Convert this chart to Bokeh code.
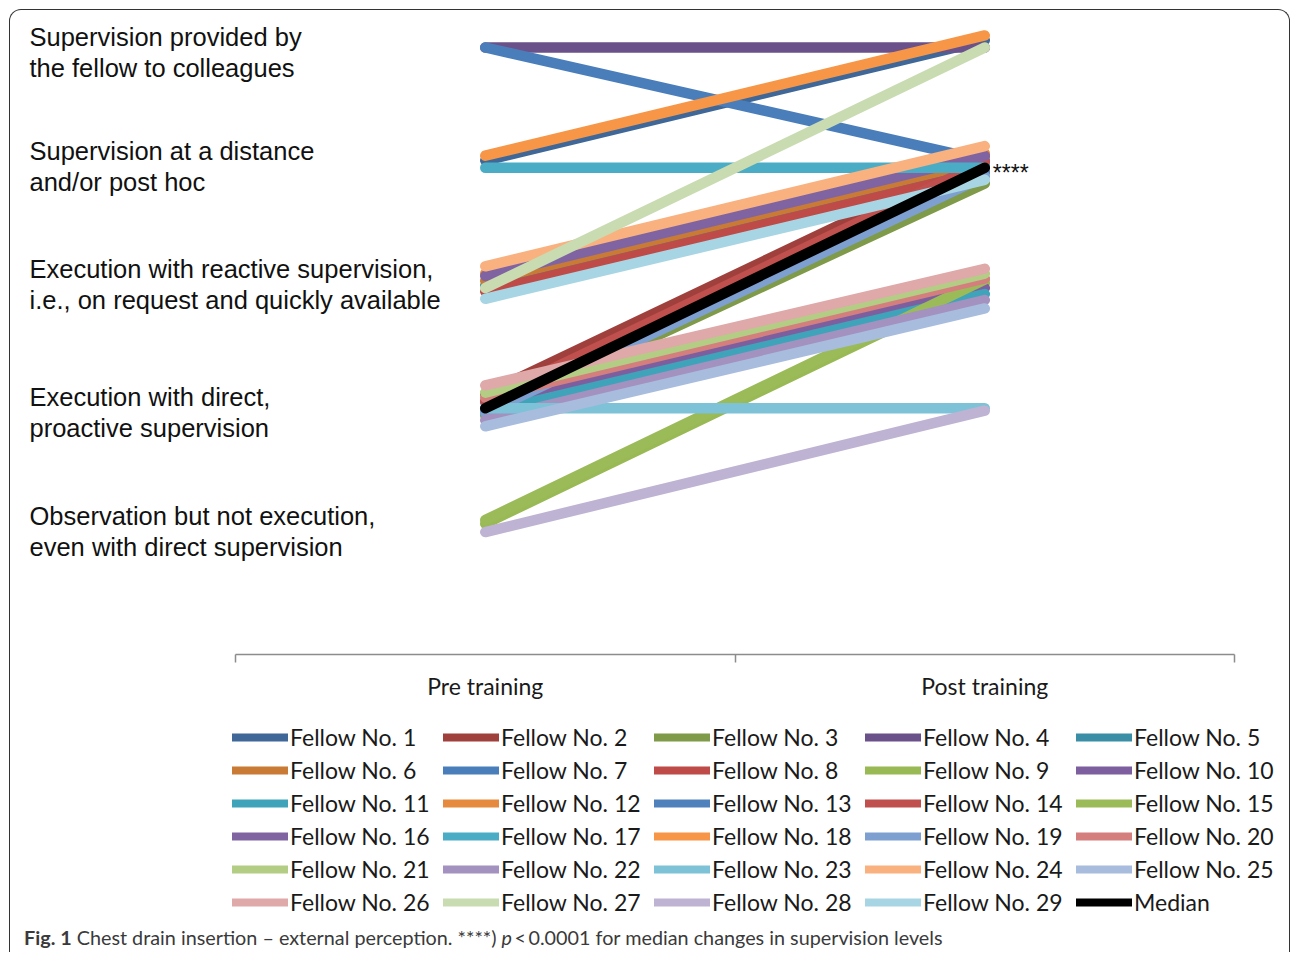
from bokeh.plotting import figure
from bokeh.models import Range1d, FixedTicker, Legend, LegendItem, Div, ColumnDataSource
from bokeh.layouts import column
from bokeh.embed import file_html
from bokeh.resources import INLINE
from bokeh.core.properties import value

# ---------------- data ----------------
phases = ["Pre training", "Post training"]

fellows = ["Fellow No. %d" % i for i in range(1, 30)]

# supervision level (1-5), slightly jittered as in the original figure
pre_level = [4.06, 2.12, 1.94, 5.00, 3.02, 3.06, 5.00, 2.97, 1.04, 2.05,
             1.96, 3.12, 1.98, 2.06, 1.07, 3.10, 4.00, 4.10, 1.96, 2.09,
             2.13, 1.90, 2.00, 3.18, 1.85, 2.19, 3.00, 0.97, 2.91]
post_level = [5.06, 4.10, 3.87, 5.00, 4.02, 4.06, 4.06, 3.97, 3.04, 3.00,
              2.95, 4.12, 3.96, 4.05, 3.07, 4.10, 4.00, 5.10, 3.93, 3.08,
              3.12, 2.90, 2.00, 4.18, 2.83, 3.16, 5.00, 1.98, 3.90]

median_label = "Median"
median_pre = 2.0
median_post = 4.0
signif_text = "****"

colors = ["#3F6797", "#A0403D", "#7F9A48", "#6A5189", "#3A8EA5",
          "#C97B35", "#4A7EBB", "#BE4B48", "#98B954", "#7D5FA0",
          "#3FA3BA", "#E68B3D", "#4F81BD", "#C0504D", "#9BBB59",
          "#8064A2", "#4BACC6", "#F79646", "#7EA0D1", "#D47F7D",
          "#B3CE84", "#A391C0", "#7DC2D7", "#F9B17F", "#A8BCDE",
          "#DEA9A8", "#C9DBB0", "#BEB3D2", "#A8D5E3"]
median_color = "#000000"

levels = [5, 4, 3, 2, 1]
level_labels = [
    "Supervision provided by\nthe fellow to colleagues",
    "Supervision at a distance\nand/or post hoc",
    "Execution with reactive supervision,\ni.e., on request and quickly available",
    "Execution with direct,\nproactive supervision",
    "Observation but not execution,\neven with direct supervision",
]

caption_html = ("<b>Fig. 1</b> Chest drain insertion \u2013 external perception. "
                "****) <i>p</i>\u2009&lt;\u20090.0001 for median changes in supervision levels")

# ---------------- styling ----------------
FRAME_W = 1278
PX_PER_UNIT = 499.5
X0 = -0.4505
LW = 10.5
label_nudge = [5, -1.5, -3.5, 4.5, 3]   # screen px, vertical fine-tuning of level labels

# ---------------- main chart ----------------
phase_x = [i + 0.5 for i in range(len(phases))]
bounds_x = [float(i) for i in range(len(phases) + 1)]

p = figure(frame_width=FRAME_W, frame_height=644,
           x_range=Range1d(X0, X0 + FRAME_W / PX_PER_UNIT), y_range=Range1d(-0.0478, 5.3077),
           output_backend="svg", toolbar_location=None, y_axis_location=None,
           min_border=0, min_border_bottom=60)
p.grid.visible = False
p.outline_line_color = None
p.background_fill_color = None
p.border_fill_color = None

ax = p.xaxis[0]
ax.ticker = FixedTicker(ticks=phase_x, minor_ticks=bounds_x)
ax.major_label_overrides = {phase_x[i]: phases[i] for i in range(len(phases))}
ax.bounds = (bounds_x[0], bounds_x[-1])
ax.axis_line_color = "#8c8c8c"
ax.axis_line_width = 1.5
ax.major_tick_out = 0
ax.major_tick_in = 0
ax.minor_tick_out = 8
ax.minor_tick_in = 0
ax.minor_tick_line_color = "#8c8c8c"
ax.minor_tick_line_width = 1.5
ax.major_label_text_font = "Lato"
ax.major_label_text_font_size = "23px"
ax.major_label_text_color = "#1a1a1a"
ax.major_label_standoff = 9

for i, name in enumerate(fellows):
    p.line(x=phase_x, y=[pre_level[i], post_level[i]], line_color=colors[i],
           line_width=LW, line_cap="round")
p.line(x=phase_x, y=[median_pre, median_post], line_color=median_color,
       line_width=LW, line_cap="round")

p.text(x=[phase_x[1]], y=[median_post], text=[signif_text], x_offset=8, y_offset=5,
       text_font=value("Liberation Sans"), text_font_size="23px",
       text_baseline="middle", text_align="left", text_color="#111111")

lab_src = ColumnDataSource(dict(x=[X0] * len(levels), y=levels, text=level_labels,
                                dy=label_nudge))
p.text(x="x", y="y", text="text", y_offset="dy", source=lab_src,
       x_offset=19, text_font=value("Liberation Sans"), text_font_size="25.5px",
       text_baseline="middle", text_align="left", text_color="#111111",
       text_line_height=1.12)

# ---------------- legend panel ----------------
p2 = figure(frame_width=FRAME_W, frame_height=204, x_range=Range1d(0, 1), y_range=Range1d(0, 1),
            output_backend="svg", toolbar_location=None, x_axis_location=None,
            y_axis_location=None, min_border=0)
p2.grid.visible = False
p2.outline_line_color = None
p2.background_fill_color = None
p2.border_fill_color = None

nan = float("nan")
items = []
for i, name in enumerate(fellows):
    r = p2.line(x=phase_x, y=[nan, nan], line_color=colors[i], line_width=8, line_cap="round")
    items.append(LegendItem(label=name, renderers=[r]))
rm = p2.line(x=phase_x, y=[nan, nan], line_color=median_color, line_width=8, line_cap="round")
items.append(LegendItem(label=median_label, renderers=[rm]))

legend = Legend(items=items, orientation="horizontal", ncols=5,
                location=(222, 2), margin=0, padding=0, spacing=5,
                glyph_width=56, glyph_height=26, label_height=26, label_width=148,
                label_standoff=2, border_line_color=None, background_fill_alpha=0,
                label_text_font="Lato", label_text_font_size="23px",
                label_text_color="#1a1a1a")
p2.add_layout(legend, "center")

cap = Div(text='<div style="padding-left:9px">' + caption_html + '</div>',
          width=FRAME_W, height=24,
          styles={"font-family": "Lato", "font-size": "19.8px", "color": "#3a3a3a",
                  "white-space": "nowrap"})

layout = column(p, p2, cap, spacing=0, margin=(9, 0, 0, 9), width=FRAME_W + 3,
                styles={"border-top": "1.5px solid #333", "border-left": "1.5px solid #333",
                        "border-right": "1.5px solid #333",
                        "border-top-left-radius": "12px", "border-top-right-radius": "12px"})

open("out.html", "w").write(file_html(layout, INLINE))
